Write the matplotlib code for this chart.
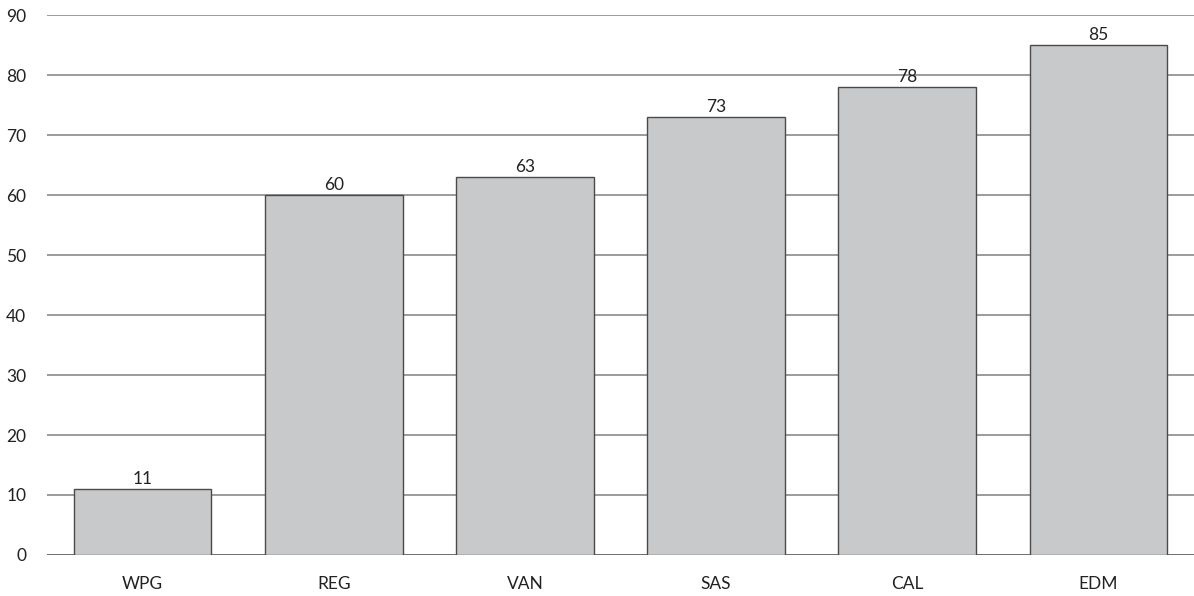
import matplotlib.pyplot as plt

plt.rcParams['font.family'] = ['Lato', 'DejaVu Sans']

cities = ["WPG", "REG", "VAN", "SAS", "CAL", "EDM"]
values = [11, 60, 63, 73, 78, 85]
yticks = [0, 10, 20, 30, 40, 50, 60, 70, 80, 90]

fig = plt.figure(figsize=(11.94, 5.96), dpi=100)
ax = fig.add_axes([0.0394, 0.0688, 0.9606, 0.906])

for y in yticks:
    ax.axhline(y, color="#555555" if y == 0 else "#8a8a8a", lw=1.2, zorder=1)

bars = ax.bar(range(len(cities)), values, width=0.72, color="#c8c9cb",
              edgecolor="#4a4a4a", linewidth=1.0, zorder=2)
for i, v in enumerate(values):
    ax.text(i, v + 0.4, str(v), ha="center", va="bottom", fontsize=12.5, color="#222222")

ax.set_xlim(-0.5, len(cities) - 0.5)
ax.set_ylim(0, 90)
ax.set_yticks(yticks)
ax.set_yticklabels([str(t) for t in yticks], fontsize=12.5, color="#222222")
ax.set_xticks(range(len(cities)))
ax.set_xticklabels(cities, fontsize=12.5, color="#222222")
ax.tick_params(axis="x", length=0, pad=15)
ax.tick_params(axis="y", length=0, pad=15)
for s in ax.spines.values():
    s.set_visible(False)

fig.savefig("out.png", dpi=100)
